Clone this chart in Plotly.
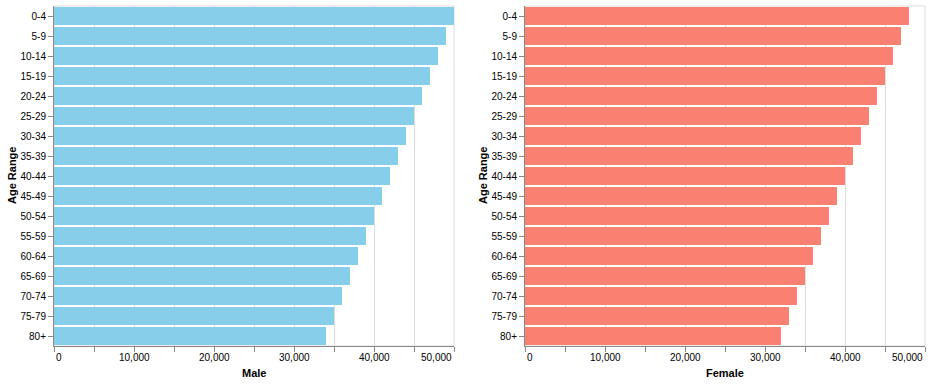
import plotly.graph_objects as go

# Data
age_ranges = ["0-4", "5-9", "10-14", "15-19", "20-24", "25-29", "30-34", "35-39",
              "40-44", "45-49", "50-54", "55-59", "60-64", "65-69", "70-74", "75-79", "80+"]
male = [50000, 49000, 48000, 47000, 46000, 45000, 44000, 43000,
        42000, 41000, 40000, 39000, 38000, 37000, 36000, 35000, 34000]
female = [48000, 47000, 46000, 45000, 44000, 43000, 42000, 41000,
          40000, 39000, 38000, 37000, 36000, 35000, 34000, 33000, 32000]
x_labels = [0, 10000, 20000, 30000, 40000, 50000]
x_ticks = [0, 5000, 10000, 15000, 20000, 25000, 30000, 35000, 40000, 45000, 50000]

W, H = 932, 384
FONT = "Liberation Sans, Arial, Helvetica, sans-serif"

# plot areas in pixels
left_px = (54, 454)
right_px = (525, 925)
top_px, bottom_px = 6, 346

def xdom(px):
    return [px[0] / W, px[1] / W]

ydom = [(H - bottom_px) / H, (H - top_px) / H]

fig = go.Figure()
fig.add_trace(go.Bar(x=male, y=age_ranges, orientation="h", marker_color="#87ceeb",
                     marker_line_width=0, xaxis="x", yaxis="y", name="Male"))
fig.add_trace(go.Bar(x=female, y=age_ranges, orientation="h", marker_color="#fa8072",
                     marker_line_width=0, xaxis="x2", yaxis="y2", name="Female"))

xaxis_style = dict(range=[0, 50000], showline=True, linecolor="#888", linewidth=1,
                   ticks="outside", ticklen=5, tickcolor="#888", tickwidth=1,
                   tickvals=x_ticks, showticklabels=False, showgrid=True,
                   gridcolor="#ddd", gridwidth=1, zeroline=False, fixedrange=True)
yaxis_style = dict(type="category", autorange="reversed", showline=True, linecolor="#888",
                   linewidth=1, ticks="outside", ticklen=5, tickcolor="#888", tickwidth=1,
                   tickfont=dict(size=10, color="#000", family=FONT), showgrid=False,
                   zeroline=False, domain=ydom, automargin=False)

fig.update_layout(
    width=W, height=H,
    margin=dict(l=0, r=0, t=0, b=0),
    paper_bgcolor="white", plot_bgcolor="white",
    showlegend=False, bargap=0.1,
    font=dict(family=FONT, size=10, color="#000"),
    xaxis=dict(domain=xdom(left_px), anchor="y", **xaxis_style),
    yaxis=dict(anchor="x", **yaxis_style),
    xaxis2=dict(domain=xdom(right_px), anchor="y2", **xaxis_style),
    yaxis2=dict(anchor="x2", **yaxis_style),
)

annotations = []
shapes = []
for xa, ya, px, title in [("x", "y", left_px, "Male"), ("x2", "y2", right_px, "Female")]:
    # view border
    shapes.append(dict(type="rect", xref=xa + " domain", yref=ya + " domain",
                       x0=0, x1=1, y0=0, y1=1, line=dict(color="#ddd", width=1),
                       layer="below"))
    # x tick labels (flush at ends like vega)
    for v in x_labels:
        anchor = "left" if v == x_labels[0] else ("right" if v == x_labels[-1] else "center")
        annotations.append(dict(x=v, xref=xa, y=(H - 350) / H, yref="paper",
                                text=f"{v:,}", showarrow=False, xanchor=anchor,
                                yanchor="top", font=dict(size=10, color="#000")))
    # x title
    annotations.append(dict(x=(px[0] + px[1]) / 2 / W, xref="paper", y=(H - 373) / H,
                            yref="paper", text=f"<b>{title}</b>", showarrow=False,
                            xanchor="center", yanchor="middle",
                            font=dict(size=11, color="#000")))
    # y title
    annotations.append(dict(x=(px[0] - 42) / W, xref="paper",
                            y=(ydom[0] + ydom[1]) / 2, yref="paper",
                            text="<b>Age Range</b>", textangle=-90, showarrow=False,
                            xanchor="center", yanchor="middle",
                            font=dict(size=11, color="#000")))

fig.update_layout(annotations=annotations, shapes=shapes)

fig.write_html("out.html", config={"displayModeBar": False},
               post_script="document.body.style.margin='0';")
